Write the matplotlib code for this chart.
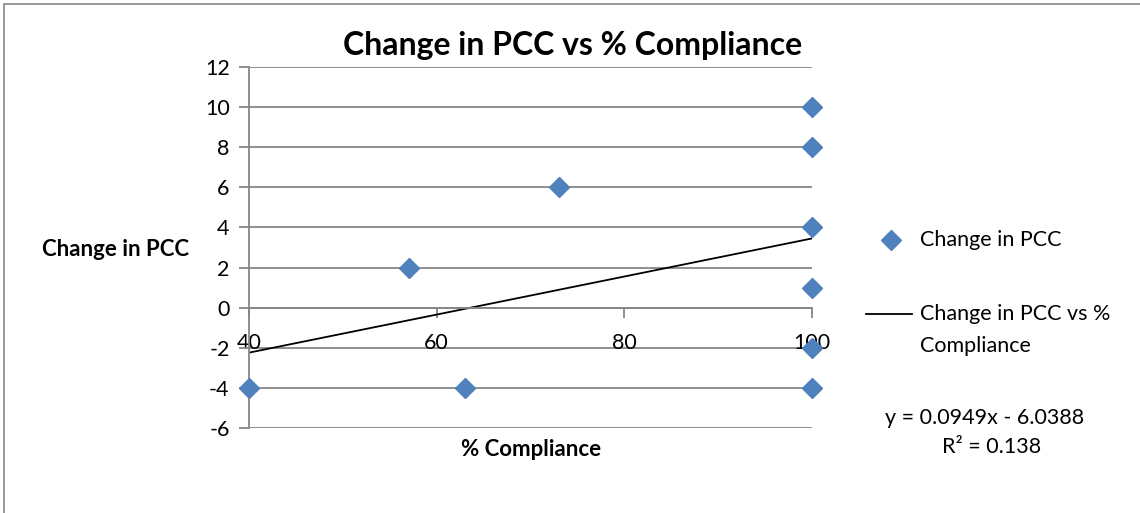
import numpy as np
import matplotlib
matplotlib.use('Agg')
import matplotlib.pyplot as plt
from matplotlib.patches import Rectangle
from matplotlib.lines import Line2D

plt.rcParams['font.family'] = ['Lato', 'DejaVu Sans']

# Datos
cumplimiento = [40, 57, 63, 73, 100, 100, 100, 100, 100, 100]
cambio_pcc = [-4, 2, -4, 6, 10, 8, 4, 1, -2, -4]

# Linea de tendencia (ecuacion mostrada)
pendiente = 0.0949
intercepto = -6.0388
r2 = 0.138

x_ticks = [40, 60, 80, 100]
y_ticks = [-6, -4, -2, 0, 2, 4, 6, 8, 10, 12]

azul = '#4F81BD'
gris = '#868686'
fs = 15.5

fig = plt.figure(figsize=(11.4, 5.13), dpi=100)
ax = fig.add_axes([249 / 1140, 1 - 428 / 513, (812 - 249) / 1140, (428 - 67) / 513])

# marco exterior
fig.patches.append(Rectangle((4 / 1140, -0.1), 1.2, 1 - 4 / 513 + 0.1,
                             transform=fig.transFigure, fill=False,
                             edgecolor=gris, linewidth=1.2))

for y in y_ticks:
    ax.axhline(y, color=gris, linewidth=1.3, zorder=1)

xl = np.array([min(cumplimiento), max(cumplimiento)])
ax.plot(xl, pendiente * xl + intercepto, color='black', linewidth=1.3, zorder=2)
ax.plot(cumplimiento, cambio_pcc, linestyle='none', marker='D', markersize=9.8,
        color=azul, zorder=3, clip_on=False)

ax.set_xlim(40, 100)
ax.set_ylim(-6, 12)
ax.set_xticks(x_ticks)
ax.set_yticks(y_ticks)
ax.set_yticklabels([str(v) for v in y_ticks])

for s in ['top', 'right']:
    ax.spines[s].set_visible(False)
ax.spines['left'].set_color(gris)
ax.spines['left'].set_linewidth(1.3)
ax.spines['bottom'].set_position(('data', 0))
ax.spines['bottom'].set_color(gris)
ax.spines['bottom'].set_linewidth(1.3)
ax.tick_params(axis='both', colors=gris, labelcolor='black', labelsize=fs,
               length=7, width=1.3)
ax.tick_params(axis='x', pad=11)
ax.tick_params(axis='y', pad=7)
ax.set_facecolor('none')

fig.text(573 / 1140, 1 - 45 / 513, 'Change in PCC vs % Compliance', ha='center',
         va='center', fontsize=23, fontweight='bold')
fig.text(116 / 1140, 1 - 250 / 513, 'Change in PCC', ha='center', va='center',
         fontsize=16, fontweight='bold')
fig.text(531 / 1140, 1 - 449 / 513, '% Compliance', ha='center', va='center',
         fontsize=16, fontweight='bold')

# leyenda
fig.lines.append(Line2D([891 / 1140], [1 - 240 / 513], marker='D', markersize=9.8,
                        color=azul, linestyle='none', transform=fig.transFigure))
fig.text(920 / 1140, 1 - 240 / 513, 'Change in PCC', ha='left', va='center', fontsize=fs)
fig.lines.append(Line2D([866 / 1140, 912 / 1140], [1 - 314 / 513, 1 - 314 / 513],
                        color='black', linewidth=1.3, transform=fig.transFigure))
fig.text(920 / 1140, 1 - 314 / 513, 'Change in PCC vs %', ha='left', va='center', fontsize=fs)
fig.text(920 / 1140, 1 - 346 / 513, 'Compliance', ha='left', va='center', fontsize=fs)

fig.text(985 / 1140, 1 - 418 / 513, f'y = {pendiente}x - {abs(intercepto)}',
         ha='center', va='center', fontsize=fs)
fig.text(992 / 1140, 1 - 447 / 513, f'R² = {r2}', ha='center', va='center', fontsize=fs)

fig.savefig('out.png', dpi=100)
